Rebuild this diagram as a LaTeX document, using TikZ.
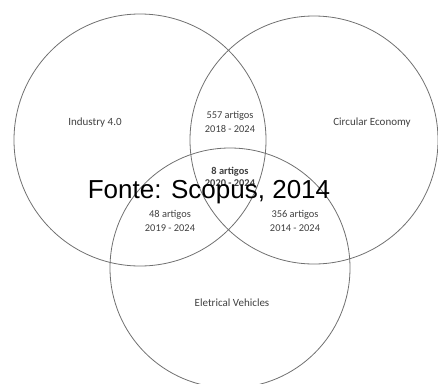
\documentclass[tikz,border=0pt]{standalone}
\usepackage{fontspec}
\setmainfont{Carlito}
\newfontfamily\arialfont{Liberation Sans}
\definecolor{ringgray}{HTML}{707070}
\definecolor{txtgray}{HTML}{404040}
\begin{document}
\begin{tikzpicture}[x=1pt,y=-1pt,
  ring/.style={draw=ringgray,line width=0.8pt},
  lbl/.style={text=txtgray,font=\fontsize{11}{13}\selectfont,align=center,inner sep=0pt},
  cnt/.style={text=txtgray,font=\fontsize{10.4}{13.5}\selectfont,align=center,inner sep=0pt},
  cntb/.style={text=txtgray,font=\fontsize{10.4}{12.5}\selectfont\bfseries,align=center,inner sep=0pt},
  src/.style={text=black,font=\arialfont\fontsize{26}{28}\selectfont,inner sep=0pt}]
\useasboundingbox (0,0) rectangle (438,383);
\begin{scope}
\clip (0,0) rectangle (438,383);
\draw[ring] (140,140) circle[radius=126];
\draw[ring] (314,140) circle[radius=124];
\draw[ring] (230,268) circle[radius=120];
\end{scope}
\node[lbl] (ind) at (95,123) {Industry 4.0};
\node[lbl] (ce) at (372,123) {Circular Economy};
\node[lbl] (ev) at (232,303) {Eletrical Vehicles};
\node[cnt] (ab) at (230,122) {557 artigos\\2018 - 2024};
\node[cntb] (abc) at (230,177) {8 artigos\\2020 - 2024};
\node[cnt] (ac) at (170,221) {48 artigos\\2019 - 2024};
\node[cnt] (bc) at (295,221) {356 artigos\\2014 - 2024};
\node[src] (fonte) at (209,192) {Fonte: Scopus, 2014};
\end{tikzpicture}
\end{document}
